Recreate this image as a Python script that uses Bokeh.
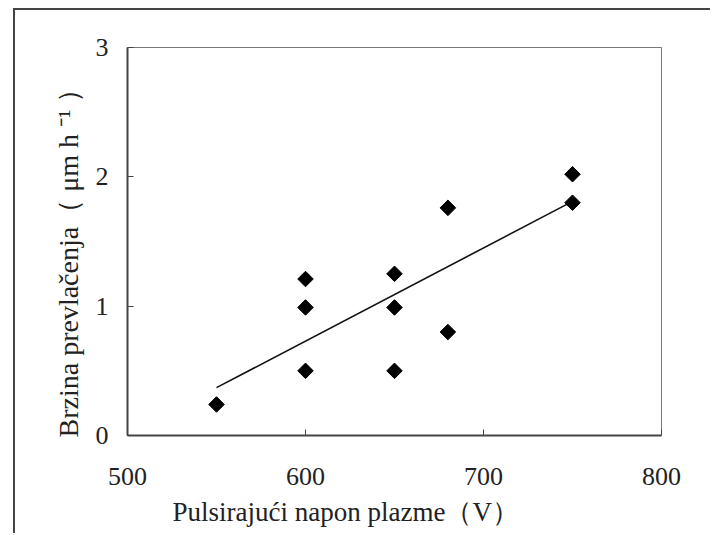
from bokeh.plotting import figure
from bokeh.models import Range1d, FixedTicker, Title, ColumnDataSource
from bokeh.embed import file_html
from bokeh.resources import INLINE

# Data
voltage = [550, 600, 600, 600, 650, 650, 650, 680, 680, 750, 750]
rate = [0.24, 1.21, 0.99, 0.50, 1.25, 0.99, 0.50, 1.76, 0.80, 2.02, 1.80]
fit_x = [550, 750]
fit_y = [0.37, 1.81]
x_ticks = [500, 600, 700, 800]
y_ticks = [0, 1, 2, 3]
x_label = "Pulsirajući napon plazme（V）"
y_label = "Brzina prevlačenja（ μm h ⁻¹ ）"

FONT = "Liberation Serif"

p = figure(width=697, height=525, output_backend="svg", toolbar_location=None,
           x_range=Range1d(500, 800), y_range=Range1d(0, 3),
           min_border_left=112, min_border_right=51, min_border_top=37, min_border_bottom=100)
p.styles = {"margin-left": "13px", "margin-top": "8px",
            "border-left": "2px solid #444", "border-top": "2px solid #444"}

p.xgrid.visible = False
p.ygrid.visible = False
p.background_fill_color = "white"
p.border_fill_color = "white"
p.outline_line_color = "#777777"
p.outline_line_width = 1

for ax in (p.xaxis[0], p.yaxis[0]):
    ax.axis_line_color = "#444444"
    ax.axis_line_width = 2
    ax.major_tick_in = 6
    ax.major_tick_out = 0
    ax.major_tick_line_color = "#444444"
    ax.minor_tick_line_color = None
    ax.major_label_text_font = FONT
    ax.major_label_text_font_size = "26px"
    ax.major_label_text_color = "#222222"

p.xaxis[0].ticker = FixedTicker(ticks=x_ticks)
p.yaxis[0].ticker = FixedTicker(ticks=y_ticks)
p.xaxis[0].major_label_standoff = 32
p.yaxis[0].major_label_standoff = 19

src = ColumnDataSource(dict(x=voltage, y=rate))
p.line(fit_x, fit_y, line_color="#111111", line_width=1.6)
p.scatter("x", "y", source=src, marker="square", angle=0.785398, size=11,
          fill_color="black", line_color="black")

tx = Title(text=x_label, align="left", offset=45, text_font=FONT,
           text_font_size="27px", text_font_style="normal", text_color="#222222",
           standoff=14, text_line_height=0.75)
p.add_layout(tx, "below")
ty = Title(text=y_label, align="left", offset=-2, text_font=FONT,
           text_font_size="28px", text_font_style="normal", text_color="#222222", standoff=17)
p.add_layout(ty, "left")

open("out.html", "w").write(file_html(p, INLINE))
